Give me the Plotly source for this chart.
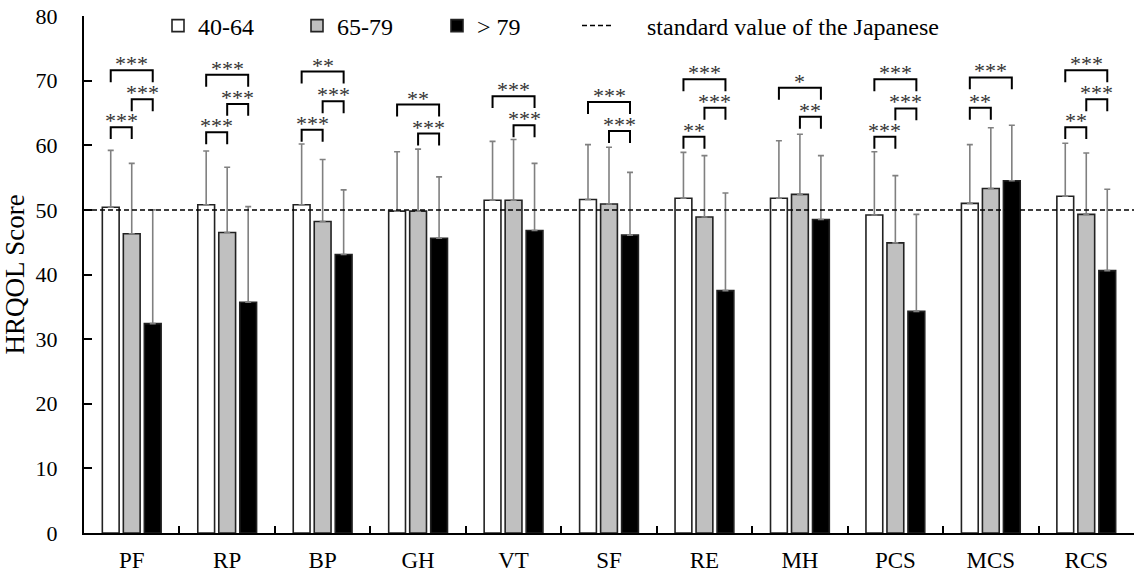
import plotly.graph_objects as go

# ---------------- data ----------------
categories = ["PF", "RP", "BP", "GH", "VT", "SF", "RE", "MH", "PCS", "MCS", "RCS"]
group_names = ["40-64", "65-79", "> 79"]

mean_40_64 = [50.4, 50.8, 50.8, 49.8, 51.5, 51.6, 51.8, 51.8, 49.2, 51.0, 52.1]
mean_65_79 = [46.3, 46.5, 48.2, 49.8, 51.5, 50.9, 48.9, 52.4, 44.9, 53.3, 49.3]
mean_over_79 = [32.4, 35.7, 43.1, 45.6, 46.8, 46.1, 37.5, 48.5, 34.3, 54.5, 40.6]

sd_40_64 = [8.8, 8.3, 9.4, 9.2, 9.1, 8.5, 7.1, 8.9, 9.8, 9.1, 8.2]
sd_65_79 = [10.9, 10.1, 9.6, 9.6, 9.4, 8.8, 9.5, 9.3, 10.4, 9.4, 9.5]
sd_over_79 = [17.6, 14.8, 10.0, 9.5, 10.4, 9.7, 15.1, 9.9, 15.0, 8.6, 12.6]

standard_value = 50
standard_label = "standard value of the Japanese"

# significance brackets: category index, group a, group b, bracket level, label
bracket_cat = [0, 0, 0, 1, 1, 1, 2, 2, 2, 3, 3, 4, 4, 5, 5, 6, 6, 6, 7, 7, 8, 8, 8, 9, 9, 10, 10, 10]
bracket_a = [0, 1, 0, 0, 1, 0, 0, 1, 0, 0, 1, 0, 1, 0, 1, 0, 1, 0, 0, 1, 0, 1, 0, 0, 0, 0, 1, 0]
bracket_b = [2, 2, 1, 2, 2, 1, 2, 2, 1, 2, 2, 2, 2, 2, 2, 2, 2, 1, 2, 2, 2, 2, 1, 2, 1, 2, 2, 1]
bracket_y = [71.6, 67.1, 62.8, 70.9, 66.4, 62.0, 71.4, 66.8, 62.4, 66.3, 61.8, 67.6, 63.1,
             66.7, 62.2, 70.2, 65.8, 61.3, 68.9, 64.4, 70.2, 65.7, 61.3, 70.5, 65.8,
             71.6, 67.1, 62.8]
bracket_text = ["***", "***", "***", "***", "***", "***", "**", "***", "***", "**", "***",
                "***", "***", "***", "***", "***", "***", "**", "*", "**", "***", "***",
                "***", "***", "**", "***", "***", "**"]

# ---------------- style ----------------
FONT = "Liberation Serif"
fills = ["#ffffff", "#c0c0c0", "#000000"]
BARGAP = 0.34
BARGROUPGAP = 0.2
LEG_DROP = 1.85

fig = go.Figure()

means = [mean_40_64, mean_65_79, mean_over_79]
sds = [sd_40_64, sd_65_79, sd_over_79]
legend_ids = ["legend", "legend2", "legend3"]
for k in range(3):
    fig.add_trace(go.Bar(
        x=categories, y=means[k], name=group_names[k],
        marker=dict(color=fills[k], line=dict(color="#222222", width=1.6)),
        error_y=dict(type="data", symmetric=False, array=sds[k],
                     arrayminus=[0] * len(categories),
                     color="#808080", thickness=1.6, width=3),
        legend=legend_ids[k],
    ))

# standard line (overlay numeric axis spanning the full plot width)
fig.add_trace(go.Scatter(
    x=[-0.5, 10.5], y=[standard_value, standard_value], mode="lines",
    name="\u00a0\u00a0\u00a0\u00a0\u00a0" + standard_label,
    line=dict(color="black", width=1.5, dash="5px,3px"),
    xaxis="x2", legend="legend4",
))

# brackets
slot = (1 - BARGAP) / 3.0
bx, by = [], []
for c, a, b, yv, t in zip(bracket_cat, bracket_a, bracket_b, bracket_y, bracket_text):
    xa = c + (a - 1) * slot
    xb = c + (b - 1) * slot
    bx += [xa, xa, xb, xb, None]
    by += [yv - LEG_DROP, yv, yv, yv - LEG_DROP, None]
    fig.add_annotation(x=(xa + xb) / 2, y=yv, xref="x2", yref="y", text=t,
                       showarrow=False, yanchor="bottom", yshift=-8,
                       font=dict(family=FONT, size=22, color="#333333"))
fig.add_trace(go.Scatter(x=bx, y=by, mode="lines", xaxis="x2",
                         line=dict(color="black", width=2), showlegend=False,
                         hoverinfo="skip"))

W, H = 1134, 574
ML, MR, MT, MB = 84, 0, 16, 41
pw = W - ML - MR
ph = H - MT - MB


def px_x(p):
    return (p - ML) / pw


legend_y = (H - MB - 26) / ph
leg_font = dict(family=FONT, size=24, color="black")
leg_common = dict(orientation="h", yanchor="middle", y=legend_y, xanchor="left",
                  font=leg_font, bgcolor="rgba(0,0,0,0)", borderwidth=0,
                  traceorder="normal")

fig.update_layout(
    width=W, height=H,
    margin=dict(l=ML, r=MR, t=MT, b=MB),
    paper_bgcolor="white", plot_bgcolor="white",
    font=dict(family=FONT, color="black"),
    barmode="group", bargap=BARGAP, bargroupgap=BARGROUPGAP,
    legend=dict(x=px_x(158), **leg_common),
    legend2=dict(x=px_x(297), **leg_common),
    legend3=dict(x=px_x(437), **leg_common),
    legend4=dict(x=px_x(577), **leg_common),
    xaxis=dict(type="category", range=[-0.5, 10.5], showline=True, linecolor="black",
               linewidth=2, ticks="inside", tickson="boundaries", ticklen=7,
               tickwidth=2, tickcolor="black", showgrid=False,
               tickfont=dict(family=FONT, size=23, color="black"),
               ticklabelstandoff=5),
    xaxis2=dict(overlaying="x", range=[-0.5, 10.5], visible=False),
    yaxis=dict(range=[0, 80], dtick=10, showline=True, linecolor="black", linewidth=2,
               ticks="inside", ticklen=8, tickwidth=2, tickcolor="black",
               showgrid=False, zeroline=False,
               tickfont=dict(family=FONT, size=22, color="black"),
               ticklabelstandoff=20,
               title=dict(text="HRQOL Score", font=dict(family=FONT, size=27, color="black"),
                          standoff=6)),
)

fig.write_html("out.html")
